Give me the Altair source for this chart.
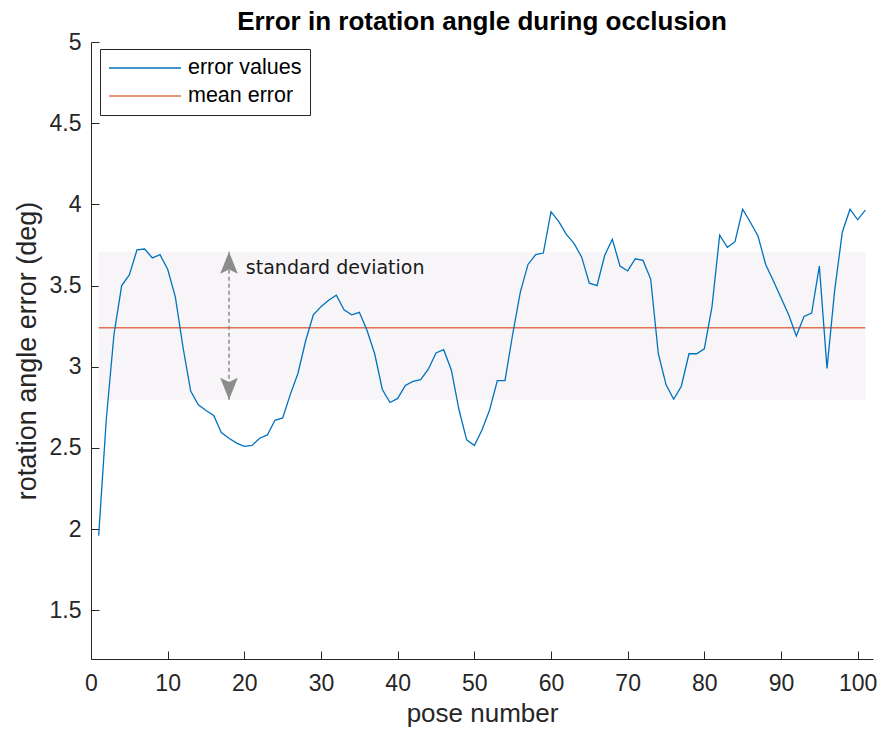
import altair as alt
import pandas as pd

# ---------------- data ----------------
pose = list(range(1, 102))
err = [
    1.96, 2.68, 3.20, 3.50, 3.565, 3.72, 3.725, 3.67, 3.69, 3.60,
    3.43, 3.12, 2.85, 2.765, 2.73, 2.70, 2.595, 2.56, 2.53, 2.51,
    2.515, 2.56, 2.58, 2.67, 2.685, 2.83, 2.96, 3.16, 3.32, 3.37,
    3.41, 3.44, 3.35, 3.32, 3.335, 3.225, 3.08, 2.86, 2.78, 2.805,
    2.885, 2.91, 2.92, 2.985, 3.085, 3.105, 2.98, 2.735, 2.55, 2.515,
    2.61, 2.735, 2.915, 2.915, 3.20, 3.46, 3.63, 3.69, 3.70, 3.955,
    3.895, 3.815, 3.76, 3.675, 3.515, 3.50, 3.685, 3.785, 3.62, 3.59,
    3.665, 3.655, 3.54, 3.08, 2.89, 2.80, 2.88, 3.08, 3.08, 3.11,
    3.37, 3.81, 3.735, 3.77, 3.97, 3.89, 3.805, 3.63, 3.53, 3.425,
    3.32, 3.19, 3.31, 3.33, 3.62, 2.99, 3.47, 3.83, 3.97, 3.905,
    3.965,
]
mean_err = 3.24
band_lower = 2.797
band_upper = 3.708
arrow_pose = [18]
note_pose = [20.2]
note_value = [3.61]
note_text = ["standard deviation"]
x_ticks = list(range(0, 101, 10))
y_ticks = [1.5, 2, 2.5, 3, 3.5, 4, 4.5, 5]
series_names = ["error values", "mean error"]
series_colors = ["#0072BD", "#E07050"]

df_line = pd.DataFrame({"pose": pose, "err": err, "series": series_names[0]})
df_mean = pd.DataFrame({"pose": [pose[0]], "pose2": [pose[-1]],
                        "val": [mean_err], "series": [series_names[1]]})
df_band = pd.DataFrame({"pose": [pose[0]], "pose2": [pose[-1]],
                        "lo": [band_lower], "hi": [band_upper]})
df_arrow = pd.DataFrame({"pose": arrow_pose, "lo": [band_lower], "hi": [band_upper]})
df_note = pd.DataFrame({"pose": note_pose, "val": note_value, "txt": note_text})

# ---------------- styling ----------------
FONT = "Liberation Sans"
AX = "#262626"
xscale = alt.Scale(domain=[0, 102], nice=False, zero=False)
yscale = alt.Scale(domain=[1.2, 5], nice=False, zero=False)

x_main = alt.Axis(values=x_ticks, tickSize=0, domainColor=AX, domainWidth=1,
                  labelFont=FONT, labelFontSize=23, labelColor=AX, labelPadding=13,
                  labelFlush=False, title="pose number", titleFont=FONT,
                  titleFontSize=26, titleFontWeight="normal", titleColor=AX,
                  titlePadding=5, grid=False)
y_main = alt.Axis(values=y_ticks, format=".1~f", tickSize=0, domainColor=AX,
                  domainWidth=1, labelFont=FONT, labelFontSize=23, labelColor=AX,
                  labelPadding=10, labelFlush=False,
                  title="rotation angle error (deg)", titleFont=FONT,
                  titleFontSize=27, titleFontWeight="normal", titleColor=AX,
                  titlePadding=8, grid=False)
x_ticks_axis = alt.Axis(values=x_ticks, orient="bottom", offset=-8, tickSize=8,
                        tickColor=AX, domain=False, labels=False, title=None,
                        grid=False)
y_ticks_axis = alt.Axis(values=y_ticks, orient="left", offset=-8, tickSize=8,
                        tickColor=AX, domain=False, labels=False, title=None,
                        grid=False)

color_scale = alt.Scale(domain=series_names, range=series_colors)
legend = alt.Legend(title=None, orient="none", legendX=9, legendY=7,
                    symbolType="stroke", symbolSize=5184, symbolStrokeWidth=1.3,
                    clipHeight=22, rowPadding=6, labelFont=FONT, labelFontSize=21.5,
                    labelColor="#000000", labelOffset=6, padding=8,
                    strokeColor=AX, fillColor="white", cornerRadius=0,
                    labelLimit=0)

# ---------------- layers ----------------
band = alt.Chart(df_band).mark_rect(color="#F7F5F7").encode(
    x=alt.X("pose:Q", scale=xscale, axis=x_main),
    x2="pose2:Q",
    y=alt.Y("lo:Q", scale=yscale, axis=y_main),
    y2="hi:Q",
)

ticks_layer = alt.Chart(df_band).mark_rect(opacity=0).encode(
    x=alt.X("pose:Q", scale=xscale, axis=x_ticks_axis),
    x2="pose2:Q",
    y=alt.Y("lo:Q", scale=yscale, axis=y_ticks_axis),
    y2="hi:Q",
)

mean_rule = alt.Chart(df_mean).mark_rule(strokeWidth=1.5).encode(
    x=alt.X("pose:Q", scale=xscale, axis=None),
    x2="pose2:Q",
    y=alt.Y("val:Q", scale=yscale, axis=None),
    color=alt.Color("series:N", scale=color_scale, legend=legend),
)

line = alt.Chart(df_line).mark_line(strokeWidth=1.3).encode(
    x=alt.X("pose:Q", scale=xscale, axis=None),
    y=alt.Y("err:Q", scale=yscale, axis=None),
    color=alt.Color("series:N", scale=color_scale, legend=legend),
)

shaft = alt.Chart(df_arrow).mark_rule(color="#8C8C8C", strokeWidth=1.5,
                                      strokeDash=[4, 3]).encode(
    x=alt.X("pose:Q", scale=xscale, axis=None),
    y=alt.Y("lo:Q", scale=yscale, axis=None),
    y2="hi:Q",
)

head_up = alt.Chart(df_arrow).mark_point(
    shape="M0,0L0.4,1L0,0.8L-0.4,1Z", size=1936, filled=True,
    color="#8C8C8C", opacity=1, strokeWidth=0).encode(
    x=alt.X("pose:Q", scale=xscale, axis=None),
    y=alt.Y("hi:Q", scale=yscale, axis=None),
)

head_down = alt.Chart(df_arrow).mark_point(
    shape="M0,0L0.4,-1L0,-0.8L-0.4,-1Z", size=1936, filled=True,
    color="#8C8C8C", opacity=1, strokeWidth=0).encode(
    x=alt.X("pose:Q", scale=xscale, axis=None),
    y=alt.Y("lo:Q", scale=yscale, axis=None),
)

note = alt.Chart(df_note).mark_text(align="left", baseline="middle",
                                    font="DejaVu Sans", fontSize=19,
                                    color="#1A1A1A").encode(
    x=alt.X("pose:Q", scale=xscale, axis=None),
    y=alt.Y("val:Q", scale=yscale, axis=None),
    text="txt:N",
)

chart = alt.layer(
    band, ticks_layer, mean_rule, line, shaft, head_up, head_down, note
).resolve_axis(x="independent", y="independent").properties(
    width=782,
    height=617,
    autosize=alt.AutoSizeParams(type="none"),
    padding={"left": 91, "top": 42, "right": 6, "bottom": 78},
    background="white",
    title=alt.TitleParams("Error in rotation angle during occlusion", font=FONT,
                          fontSize=26, fontWeight="bold", color="#000000",
                          anchor="middle", offset=10, dy=14),
).configure_view(stroke=None)

chart.save("out.html", embed_options={"renderer": "svg", "actions": False})
